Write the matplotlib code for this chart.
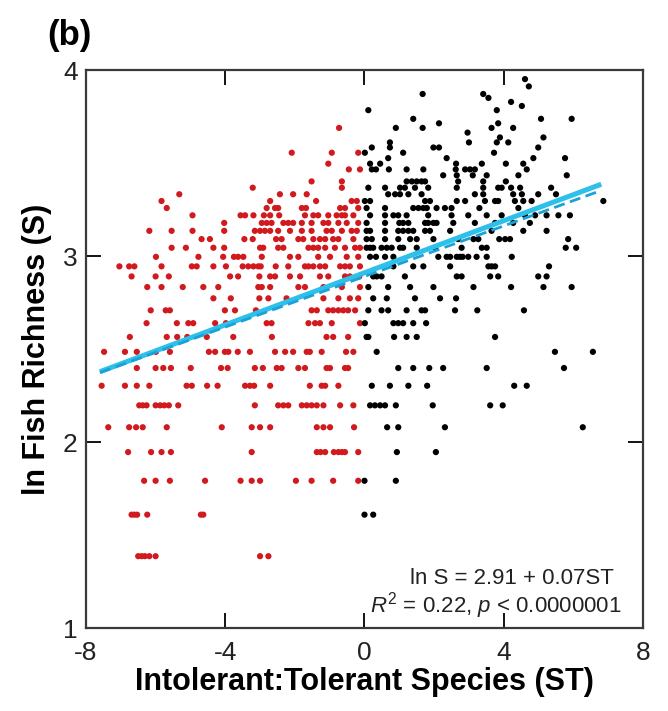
import numpy as np
import matplotlib
matplotlib.use("Agg")
import matplotlib.pyplot as plt

plt.rcParams['font.family'] = ['Liberation Sans', 'DejaVu Sans']
plt.rcParams['axes.unicode_minus'] = False
plt.rcParams['mathtext.fontset'] = 'custom'
plt.rcParams['mathtext.rm'] = 'Liberation Sans'
plt.rcParams['mathtext.it'] = 'Liberation Sans:italic'

# fish richness (S) levels and the ST values read at each level
richness_levels = [4, 5, 6, 7, 8, 9, 10, 11, 12, 13, 14, 15, 16, 17, 18, 19, 20,
                   21, 22, 23, 24, 25, 26, 27, 28, 29, 30, 31, 32, 33, 34, 35,
                   36, 37, 38, 39, 40, 41, 42, 44, 45, 46, 47, 48, 50, 52]
st_by_level = [
    [-6.50, -6.40, -6.31, -6.18, -6.00, -3.00, -2.76],
    [-6.69, -6.61, -6.53, -6.24, -4.70, -4.63, 0.00, 0.25],
    [-6.33, -6.00, -5.59, -4.58, -3.56, -3.24, -3.00, -1.97, -1.52, -0.90, -0.18, 0.00, 0.90],
    [-6.79, -6.13, -5.83, -5.56, -3.24, -1.37, -1.26, -1.13, -0.88, -0.75, -0.65, -0.56, -0.18, 0.93, 2.05],
    [-7.36, -6.76, -6.56, -6.37, -5.68, -4.10, -3.24, -3.00, -2.71, -1.37, -1.18, -0.99, -0.30, 0.65, 0.97, 2.31, 6.27],
    [-6.47, -6.37, -6.26, -6.00, -5.87, -5.75, -5.62, -5.35, -3.15, -2.48, -2.33, -2.19, -1.80, -1.66, -1.52, -1.37,
     -1.18, -0.70, -0.32, 0.16, 0.30, 0.45, 0.59, 0.90, 1.96, 3.61, 3.97],
    [-7.55, -6.88, -6.54, -6.18, -5.11, -4.96, -4.52, -4.22, -3.43, -3.29, -3.17, -2.71, -1.57, -1.23, -1.13, -0.75,
     0.21, 0.73, 1.26, 1.80, 4.30, 4.66],
    [-6.54, -6.00, -5.78, -5.56, -4.99, -4.12, -3.93, -3.15, -2.92, -2.52, -2.38, -1.90, -1.71, -1.09, -0.99, -0.56,
     -0.47, 0.97, 1.40, 1.86, 2.26, 3.51, 5.73],
    [-7.48, -6.88, -6.54, -5.99, -5.59, -4.47, -4.29, -4.01, -3.91, -3.64, -3.29, -2.57, -2.28, -2.05, -1.66, -1.57,
     -1.23, -0.53, -0.32, 0.35, 5.47, 6.56],
    [-6.74, -5.68, -5.38, -5.09, -4.53, -3.77, -2.66, -1.09, -0.90, -0.47, 0.06, 0.11, 0.85, 1.21, 1.50, 3.75],
    [-6.26, -5.39, -5.06, -4.92, -4.29, -3.98, -2.81, -2.67, -1.61, -1.42, -1.28, -0.94, -0.13, 0.01, 0.83, 0.97,
     1.11, 1.40, 1.77],
    [-6.14, -5.71, -5.59, -4.01, -3.72, -3.12, -1.52, -1.37, -1.04, -0.90, -0.75, -0.61, -0.47, -0.27, 0.11, 0.49,
     0.68, 1.21, 1.64, 1.74, 2.60, 3.24, 4.58],
    [-4.34, -3.84, -3.02, -2.76, -2.24, -1.18, -0.75, -0.42, -0.18, 0.25, 0.64, 1.45, 2.17, 2.63],
    [-6.24, -5.83, -5.22, -4.63, -4.20, -3.05, -2.95, -2.71, -1.90, -1.71, -1.18, -0.65, -0.13, 0.11, 0.68, 1.31,
     1.98, 3.13, 4.21, 5.14, 5.95],
    [-6.69, -6.00, -5.62, -3.86, -3.63, -3.02, -2.71, -2.57, -2.14, -1.85, -1.28, -1.04, -0.56, -0.42, -0.15, 0.25,
     0.35, 0.49, 1.16, 2.65, 2.79, 3.61, 3.84, 4.99, 5.23],
    [-7.04, -6.76, -6.61, -5.83, -4.96, -4.82, -4.34, -3.98, -3.50, -3.34, -3.19, -3.05, -2.98, -2.55, -2.19, -1.71,
     -1.61, -1.47, -1.28, -1.13, -0.70, -0.56, -0.42, -0.13, 0.83, 1.40, 1.69, 2.46, 3.56, 3.65, 3.75, 5.30],
    [-5.99, -4.77, -4.06, -3.75, -3.63, -3.48, -2.95, -2.14, -1.90, -1.33, -0.99, -0.51, -0.18, 0.16, 0.33, 0.59,
     0.83, 2.12, 2.36, 2.46, 2.65, 2.74, 2.82, 2.98, 3.22, 3.51, 4.23],
    [-5.54, -5.13, -4.34, -4.03, -3.00, -2.91, -2.48, -2.33, -1.61, -1.47, -1.33, -1.13, -0.85, -0.56, -0.27, -0.13,
     0.06, 0.16, 0.25, 0.49, 0.64, 0.78, 1.02, 1.11, 1.50, 2.03, 2.79, 3.37, 3.51, 5.78, 6.08],
    [-4.68, -4.44, -3.45, -3.21, -2.54, -2.38, -1.90, -1.76, -1.47, -1.28, -1.13, -0.90, -0.75, -0.32, 0.06, 0.21,
     0.59, 0.97, 1.31, 1.50, 1.98, 2.69, 3.13, 3.27, 3.87, 4.04, 4.18, 5.85],
    [-6.18, -5.54, -4.94, -4.03, -3.15, -3.00, -2.86, -2.71, -2.48, -2.14, -1.80, -1.52, -1.09, -0.94, -0.65, -0.37,
     -0.22, 0.06, 0.16, 0.59, 0.97, 1.11, 1.26, 1.40, 1.74, 1.88, 2.46, 3.65, 4.56, 5.23],
    [-4.03, -2.95, -2.81, -2.67, -2.33, -2.19, -2.05, -1.80, -1.52, -1.18, -1.04, -0.75, -0.51, -0.18, 0.06, 0.59,
     1.00, 1.11, 1.26, 1.74, 1.83, 1.98, 2.07, 2.55, 3.17, 3.75, 4.27, 4.75],
    [-4.94, -3.56, -3.43, -3.19, -2.89, -2.71, -2.45, -1.71, -1.47, -1.33, -1.04, -0.80, -0.65, -0.56, -0.32, 0.16,
     0.59, 0.83, 0.97, 1.21, 1.83, 2.50, 2.98, 3.51, 3.94, 4.61, 4.90, 5.23, 5.57, 5.90],
    [-5.68, -2.81, -2.57, -2.48, -1.80, -1.68, -0.70, -0.56, -0.18, 0.06, 0.59, 1.40, 1.55, 1.69, 1.79, 2.07,
     2.31, 2.50, 3.30, 4.42],
    [-5.83, -2.71, -1.39, -0.37, -0.22, 0.01, 0.16, 1.74, 1.88, 2.65, 2.89, 3.46, 3.75, 3.84, 4.32, 4.56, 4.80, 6.86],
    [-5.32, -2.43, -2.05, -1.66, 0.68, 0.88, 1.02, 1.26, 1.64, 3.17, 3.41, 4.27, 4.52, 4.99, 5.50],
    [-3.21, -0.65, 0.11, 0.59, 1.02, 1.16, 1.45, 1.83, 2.65, 3.41, 3.84, 3.94, 4.21, 4.47, 5.36],
    [-1.52, -0.65, 1.21, 1.36, 1.50, 1.64, 1.74, 2.69, 3.41, 4.06],
    [2.26, 2.65, 3.11, 3.51, 4.42, 5.81],
    [-0.45, -0.13, 0.21, 0.33, 0.70, 1.21, 1.69, 2.62, 2.89, 3.03, 3.17, 4.66],
    [-1.04, 0.16, 0.45, 2.63, 3.37, 4.06, 4.56],
    [0.68, 2.36, 4.85, 5.76],
    [-2.09, -0.94, -0.18, 0.01, 1.11, 3.72],
    [0.21, 0.73, 1.98, 2.14, 4.99],
    [0.73, 3.00, 3.80, 4.13],
    [3.89, 5.14],
    [2.96],
    [-0.73, 0.90, 1.67, 3.65, 4.27],
    [2.14, 3.84],
    [1.40, 5.07, 5.95],
    [0.11, 3.80],
    [4.52],
    [4.21],
    [3.56],
    [1.67, 3.41],
    [4.72],
    [4.61],
]

# fitted lines: intercept, slope and ST range
fit_solid = (2.91, 0.07)
fit_dashed = (2.89, 0.068)
fit_range = [-7.6, 6.8]

st = []
ln_s = []
for n, xs in zip(richness_levels, st_by_level):
    for v in xs:
        st.append(v)
        ln_s.append(np.log(n))
st = np.array(st)
ln_s = np.array(ln_s)
neg = st < 0

fig = plt.figure(figsize=(6.68, 7.11), dpi=100)
ax = fig.add_axes([0.1287, 0.1167, 0.8339, 0.7848])

ax.scatter(st[neg], ln_s[neg], s=20, color='#d01a1e', edgecolors='none', zorder=2)
ax.scatter(st[~neg], ln_s[~neg], s=20, color='black', edgecolors='none', zorder=2)

xl = np.array(fit_range)
ax.plot(xl, fit_solid[0] + fit_solid[1] * xl, color='#2cc0ea', lw=3.6, solid_capstyle='butt', zorder=3)
ax.plot(xl, fit_dashed[0] + fit_dashed[1] * xl, color='#1aa2d6', lw=2.0, ls=(0, (4, 2)), zorder=4)

ax.set_xlim(-8, 8)
ax.set_ylim(1, 4)
ax.set_xticks([-8, -4, 0, 4, 8])
ax.set_yticks([1, 2, 3, 4])
ax.tick_params(direction='in', length=11, width=1.3, top=True, right=True,
               labelsize=19, color='black', labelcolor='#222222')
ax.tick_params(axis='x', pad=9)
ax.tick_params(axis='y', pad=6)
for sp in ax.spines.values():
    sp.set_linewidth(1.6)
    sp.set_color('#3a3a3a')

ax.set_xlabel('Intolerant:Tolerant Species (ST)', fontsize=22, fontweight='bold', labelpad=2)
ax.set_ylabel('ln Fish Richness (S)', fontsize=22, fontweight='bold', labelpad=8)

ax.text(0.948, 0.088, 'ln S = 2.91 + 0.07ST', transform=ax.transAxes, ha='right', va='center',
        fontsize=16, color='#222222')
ax.text(0.962, 0.040, r'$R^2$ = 0.22, $p$ < 0.0000001', transform=ax.transAxes, ha='right', va='center',
        fontsize=16, color='#222222')

fig.text(0.070, 0.950, '(b)', fontsize=25, fontweight='bold', ha='left', va='center')

fig.savefig('out.png', dpi=100)
